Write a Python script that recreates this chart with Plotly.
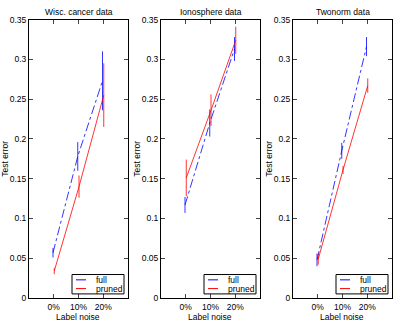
import plotly.graph_objects as go

noise = [0.0, 0.1, 0.2]
tick_labels = ["0%", "10%", "20%"]
titles = ["Wisc. cancer data", "Ionosphere data", "Twonorm data"]
series_names = ["full", "pruned"]

full_mean = [[0.057, 0.178, 0.273], [0.117, 0.220, 0.313], [0.048, 0.185, 0.316]]
full_err = [[0.006, 0.018, 0.037], [0.010, 0.017, 0.015], [0.008, 0.010, 0.012]]
pruned_mean = [[0.034, 0.140, 0.255], [0.151, 0.236, 0.324], [0.049, 0.161, 0.267]]
pruned_err = [[0.004, 0.014, 0.040], [0.023, 0.020, 0.017], [0.007, 0.005, 0.009]]

W, H = 396, 328
panels_px = [(29, 128), (161, 260), (293, 392)]
top_px, bot_px = 15, 302.3
colors = ["#0000ff", "#ff0000"]

fig = go.Figure()
font = "Liberation Sans, Arial, Helvetica, sans-serif"
FS = 8.5

for i in range(3):
    ax = "" if i == 0 else str(i + 1)
    fig.add_trace(go.Scatter(
        x=[v - 0.003 for v in noise], y=full_mean[i], mode="lines", name=series_names[0],
        line=dict(color=colors[0], width=0.8, dash="dashdot"),
        error_y=dict(type="data", array=full_err[i], width=0, thickness=0.8, color=colors[0]),
        xaxis="x" + ax, yaxis="y" + ax, showlegend=False))
    fig.add_trace(go.Scatter(
        x=[v + 0.002 for v in noise], y=pruned_mean[i], mode="lines", name=series_names[1],
        line=dict(color=colors[1], width=0.8),
        error_y=dict(type="data", array=pruned_err[i], width=0, thickness=0.8, color=colors[1]),
        xaxis="x" + ax, yaxis="y" + ax, showlegend=False))

layout = dict(
    width=W, height=H, margin=dict(l=0, r=0, t=0, b=0),
    paper_bgcolor="white", plot_bgcolor="white",
    font=dict(family=font, size=FS, color="black"),
    annotations=[], shapes=[],
)
ydom = [1 - bot_px / H, 1 - top_px / H]


def px(x):
    return x / W


def py(y):
    return 1 - y / H


for i, (l, r) in enumerate(panels_px):
    sfx = "" if i == 0 else str(i + 1)
    layout["xaxis" + sfx] = dict(
        domain=[l / W, r / W], range=[-0.1, 0.3], tickvals=noise, ticktext=tick_labels,
        ticks="inside", ticklen=4, showline=True, mirror="ticks", linecolor="black",
        linewidth=1, showgrid=False, zeroline=False, anchor="y" + sfx,
        tickfont=dict(size=FS), ticklabelstandoff=1)
    layout["yaxis" + sfx] = dict(
        domain=ydom, range=[0, 0.35],
        tickvals=[0, 0.05, 0.1, 0.15, 0.2, 0.25, 0.3, 0.35],
        ticktext=["0", "0.05", "0.1", "0.15", "0.2", "0.25", "0.3", "0.35"],
        ticks="inside", ticklen=4, showline=True, mirror="ticks", linecolor="black",
        linewidth=1, showgrid=False, zeroline=False, anchor="x" + sfx,
        tickfont=dict(size=FS))
    off = l - 29
    layout["shapes"].append(dict(
        type="rect", xref="paper", yref="paper",
        x0=px(72 + off), x1=px(124 + off), y0=py(298), y1=py(278),
        line=dict(color="black", width=1), fillcolor="white", layer="above"))
    for k, yrow in enumerate([283.5, 292.5]):
        layout["shapes"].append(dict(
            type="line", xref="paper", yref="paper",
            x0=px(76 + off), x1=px(86 + off), y0=py(yrow), y1=py(yrow),
            line=dict(color=colors[k], width=1), layer="above"))
        layout["annotations"].append(dict(
            text=series_names[k], x=px(94 + off), y=py(yrow), xref="paper", yref="paper",
            showarrow=False, font=dict(size=FS), xanchor="left", yanchor="middle"))
    cx = (l + r) / 2 / W
    layout["annotations"].append(dict(
        text=titles[i], x=cx, y=py(7), xref="paper", yref="paper",
        showarrow=False, font=dict(size=FS), xanchor="center", yanchor="middle"))
    layout["annotations"].append(dict(
        text="Label noise", x=px(78 + off), y=py(322), xref="paper", yref="paper",
        showarrow=False, font=dict(size=FS), xanchor="center", yanchor="middle"))
    layout["annotations"].append(dict(
        text="Test error", x=px(l - 24), y=(ydom[0] + ydom[1]) / 2, xref="paper",
        yref="paper", showarrow=False, textangle=-90, font=dict(size=FS),
        xanchor="center", yanchor="middle"))

fig.update_layout(**layout)
fig.write_html("out.html")
